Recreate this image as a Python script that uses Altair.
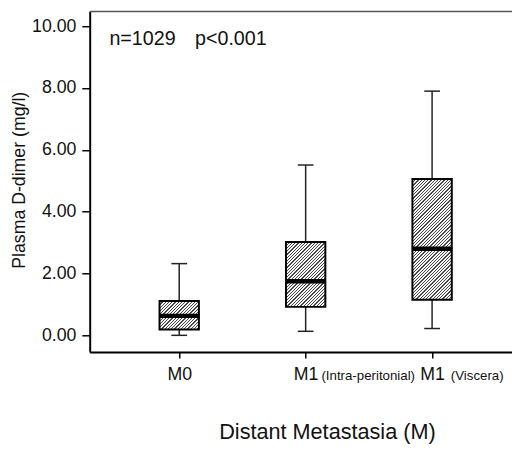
import altair as alt
import pandas as pd

# ---- data ----
groups = ["M0", "M1 (Intra-peritonial)", "M1 (Viscera)"]
positions = [0, 1, 2]
sub_labels = ["", "(Intra-peritonial)", "(Viscera)"]
whisker_low = [0.00, 0.13, 0.22]
q1 = [0.19, 0.92, 1.15]
median = [0.63, 1.75, 2.80]
q3 = [1.11, 3.02, 5.06]
whisker_high = [2.32, 5.51, 7.90]
y_ticks = [0, 2, 4, 6, 8, 10]
annotations = ["n=1029", "p<0.001"]
x_title = "Distant Metastasia (M)"
y_title = "Plasma D-dimer (mg/l)"

# ---- layout / style ----
W, H = 429, 346
YMIN, YMAX = -0.541, 10.478
XMIN, XMAX = -0.669, 2.593
PX_PER_Y = H / (YMAX - YMIN)
BOX_W = 40
FONT = "Liberation Sans"

df = pd.DataFrame(dict(group=groups, pos=positions, low=whisker_low, q1=q1,
                       med=median, q3=q3, high=whisker_high))

xs = alt.Scale(domain=[XMIN, XMAX], nice=False, zero=False)
ys = alt.Scale(domain=[YMIN, YMAX], nice=False, zero=False)


def hatch(h_px, w_px=BOX_W, period=3.3, frac=0.4, dark="#4a4a4a", light="#f4f4f4"):
    s = w_px + h_px
    k = s / (w_px ** 2 + h_px ** 2)
    n = s / period
    stops = []
    i = 0
    while i / n < 1:
        a = i / n
        b = min((i + frac) / n, 1.0)
        c = min((i + 1) / n, 1.0)
        stops += [{"offset": a, "color": dark}, {"offset": b, "color": dark},
                  {"offset": b, "color": light}, {"offset": c, "color": light}]
        i += 1
    return {"gradient": "linear", "x1": 0, "y1": 0, "x2": k * w_px, "y2": k * h_px,
            "stops": stops}


x_axis = alt.Axis(values=positions, labelExpr="datum.value == 0 ? 'M0' : 'M1'",
                  title=x_title, titleFontSize=22, titleFontWeight="normal",
                  titleX=241, titleY=88, titleAlign="center", titleBaseline="alphabetic",
                  titleColor="#111", grid=False, tickSize=6, tickWidth=1.5, tickColor="black",
                  domainWidth=2, domainColor="black", labelFontSize=18, labelPadding=8,
                  labelColor="#111", labelFlush=False)
y_axis = alt.Axis(values=y_ticks, format=".2f", title=y_title, titleFontSize=18,
                  titleFontWeight="normal", titleX=-71, titleY=171, titleAngle=270,
                  titleAlign="center", titleBaseline="middle", titleColor="#111",
                  grid=False, tickSize=8, tickWidth=1.5, tickColor="black",
                  domainWidth=2, domainColor="black", labelFontSize=18, labelPadding=6,
                  labelColor="#111", labelFlush=False)


def X():
    return alt.X("pos:Q", scale=xs, axis=x_axis)


def Y(field):
    return alt.Y(field, scale=ys, axis=y_axis)


base = alt.Chart(df)

whisk_lo = base.mark_rule(color="#222", strokeWidth=1.5).encode(
    x=X(), y=Y("low:Q"), y2="q1:Q")
whisk_hi = base.mark_rule(color="#222", strokeWidth=1.5).encode(
    x=X(), y=Y("q3:Q"), y2="high:Q")

boxes = []
for g, lo_, hi_ in zip(groups, q1, q3):
    h_px = (hi_ - lo_) * PX_PER_Y
    boxes.append(
        alt.Chart(df[df.group == g]).mark_bar(
            width=BOX_W, fill=hatch(h_px), stroke="black", strokeWidth=2, opacity=1
        ).encode(x=X(), y=Y("q1:Q"), y2="q3:Q")
    )

med = base.mark_tick(orient="horizontal", size=BOX_W + 1, thickness=4.5, color="black",
                     opacity=1).encode(x=X(), y=Y("med:Q"))
cap_lo = base.mark_tick(orient="horizontal", size=16, thickness=1.5, color="#222",
                        opacity=1).encode(x=X(), y=Y("low:Q"))
cap_hi = base.mark_tick(orient="horizontal", size=16, thickness=1.5, color="#222",
                        opacity=1).encode(x=X(), y=Y("high:Q"))

subs = []
for p, s, dx in zip(positions[1:], sub_labels[1:], [16, 19]):
    subs.append(
        alt.Chart(pd.DataFrame({"pos": [p], "t": [s]})).mark_text(
            align="left", baseline="alphabetic", fontSize=13.5, dx=dx, color="#111", font=FONT
        ).encode(x=X(), y=alt.value(374), text="t:N")
    )

ann = []
for t, xv in zip(annotations, [20, 107]):
    ann.append(
        alt.Chart(pd.DataFrame({"t": [t]})).mark_text(
            align="left", baseline="alphabetic", fontSize=20, color="#111", font=FONT
        ).encode(x=alt.value(xv), y=alt.value(34), text="t:N")
    )

top_rule = alt.Chart(pd.DataFrame({"a": [0]})).mark_rule(color="#555", strokeWidth=1.5).encode(
    x=alt.value(0), x2=alt.value(W), y=alt.value(0))

chart = alt.layer(whisk_lo, whisk_hi, *boxes, med, cap_lo, cap_hi, *subs, *ann, top_rule).properties(
    width=W, height=H,
    autosize=alt.AutoSizeParams(type="none"),
    padding={"left": 83, "top": 0, "right": 0, "bottom": 96},
).configure(font=FONT).configure_view(strokeOpacity=0)

chart.save("out.html", embed_options={"renderer": "svg", "actions": False})
